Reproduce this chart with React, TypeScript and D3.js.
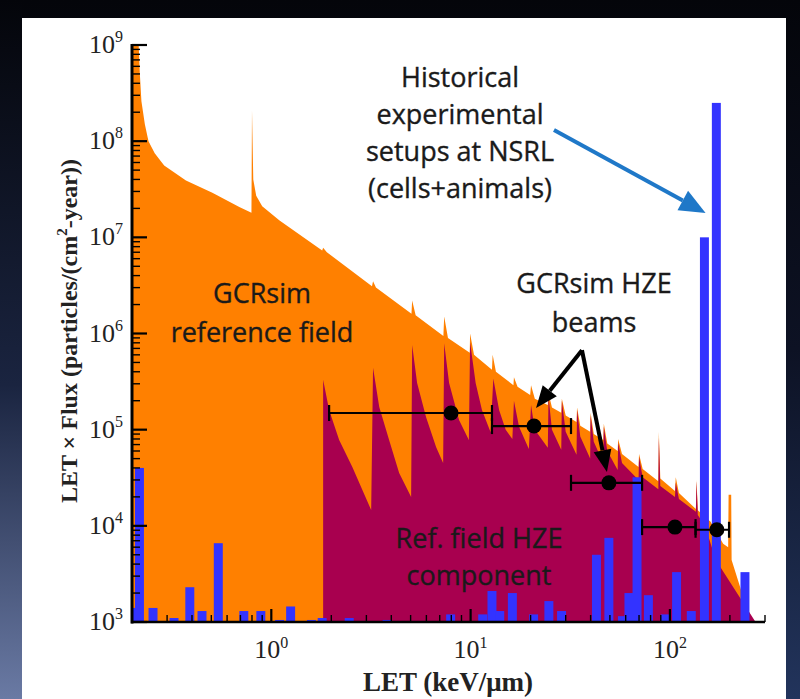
import React from "react";
import * as d3 from "d3";

// GCRsim reference field (orange): LET (keV/um) and LET x flux
const refLet = [0.2, 0.216, 0.219, 0.223, 0.232, 0.242, 0.26, 0.29, 0.373, 0.506, 0.691, 0.795, 0.8, 0.812, 0.84, 0.9, 1.1,
  1.8, 1.82, 1.9, 3.2, 3.24, 3.35, 5.05, 5.09, 5.3, 7.3, 7.37, 7.7, 9.9, 9.94, 10.4, 12.8, 12.9, 13.4, 16.4, 16.5, 17.2,
  19.9, 20.1, 21, 24.4, 24.6, 25.6, 28.5, 28.7, 30, 34, 34.2, 35.5, 39.8, 40, 41.5, 46.3, 46.6, 48.5, 54.7, 55, 57.5,
  69.6, 70, 73, 87.5, 88, 89.5, 106, 107, 111, 135, 136, 138, 160, 185, 196, 197, 203, 204, 230, 260];
const refFlux = [1e9, 1e9, 5e8, 2.6e8, 1.5e8, 1.0e8, 7.5e7, 5.6e7, 3.9e7, 2.9e7, 2.07e7, 1.8e7, 2.1e8, 4.0e7, 2.7e7, 2.1e7, 1.5e7,
  7.3e6, 7.8e6, 7.0e6, 3.1e6, 3.5e6, 3.0e6, 1.6e6, 2.2e6, 1.55e6, 9.4e5, 1.5e6, 9.0e5, 6.3e5, 1.0e6, 6.0e5, 4.2e5, 6.0e5, 4.0e5, 2.9e5, 3.5e5, 2.8e5,
  2.3e5, 2.9e5, 2.1e5, 1.8e5, 2.4e5, 1.7e5, 1.5e5, 2.1e5, 1.4e5, 1.2e5, 1.7e5, 1.1e5, 9.5e4, 1.5e5, 9.0e4, 7.8e4, 1.15e5, 7.2e4, 6.0e4, 8.0e4, 5.6e4,
  4.1e4, 5.6e4, 3.9e4, 2.9e4, 9.5e4, 3.1e4, 2.3e4, 3.2e4, 2.2e4, 1.5e4, 3.0e4, 1.45e4, 1.1e4, 6.5e3, 6.0e3, 2.1e4, 2.1e4, 4.4e3, 2.0e3, 1e3];

// Ref. field HZE component (crimson)
const hzeLet = [1.82, 1.95, 2.19, 2.55, 3.17, 3.24, 3.48, 3.9, 4.38, 5.03, 5.09, 5.39, 5.98, 6.71, 7.28, 7.37, 7.8, 8.75, 9.8,
  9.94, 10.6, 11.4, 12.6, 13.0, 13.9, 15.0, 16.2, 16.5, 17.5, 19.6, 20.1, 21, 24.4, 24.6, 25.6, 28.5, 28.7, 30, 34, 34.2, 35.5,
  39.8, 40, 41.5, 46.3, 46.6, 48.5, 54.7, 55, 57.5, 69.6, 70, 73, 87.5, 88, 89.5, 106, 107, 111, 135, 136, 138, 150, 170, 269];
const hzeFlux = [3.3e5, 1.6e5, 7.8e4, 4.1e4, 1.46e4, 4.4e5, 1.72e5, 7.8e4, 3.55e4, 2.0e4, 7.6e5, 3.05e5, 1.35e5, 6.6e4, 4.5e4, 7.9e5, 3.05e5, 1.26e5, 7.8e4,
  8.1e5, 3.05e5, 1.6e5, 9.4e4, 3.4e5, 1.6e5, 1.0e5, 8.0e4, 2.0e5, 1.07e5, 6.3e4, 1.8e5, 1.0e5, 6.5e4, 2.2e5, 1.0e5, 6.2e4, 2.0e5, 9.5e4, 5.5e4, 1.6e5, 8.5e4,
  5.0e4, 1.4e5, 7.5e4, 4.5e4, 1.07e5, 6.0e4, 3.8e4, 7.3e4, 4.5e4, 3.0e4, 5.2e4, 3.2e4, 2.4e4, 8.3e4, 2.6e4, 2.0e4, 2.8e4, 1.9e4, 1.4e4, 2.9e4, 1.3e4, 1.0e4, 4.4e3, 1e3];

// Historical experimental setups at NSRL (blue bars)
const nsrlLet = [0.2, 0.218, 0.255, 0.325, 0.39, 0.449, 0.542, 0.728, 0.886, 1.10, 1.25, 1.59, 1.80, 2.46, 3.81, 7.94, 11.5, 12.8,
  14.0, 16.2, 20.7, 24.7, 28.6, 42.8, 49.4, 57.8, 62.3, 68.4, 78, 94.9, 108, 128, 149, 171, 238];
const nsrlFlux = [1.4e3, 4.0e4, 1.4e3, 1.1e3, 2.3e3, 1.3e3, 6.6e3, 1.3e3, 1.3e3, 1.05e3, 1.45e3, 1.05e3, 1.1e3, 1.1e3, 1.05e3, 1.2e3, 1.2e3, 2.1e3,
  1.3e3, 2.0e3, 1.2e3, 1.65e3, 1.3e3, 5.0e3, 7.5e3, 1.15e3, 2.0e3, 3.2e4, 1.9e3, 1.2e3, 3.3e3, 1.3e3, 1.0e7, 2.5e8, 3.3e3];

// GCRsim HZE beams (points with LET ranges)
const beamLet = [7.98, 20.8, 49.4, 106, 172];
const beamFlux = [1.49e5, 1.09e5, 2.8e4, 9.7e3, 9.1e3];
const beamLo = [1.95, 12.8, 31.9, 72.5, 134.5];
const beamHi = [12.8, 31.9, 72.5, 134.5, 198];

// annotation arrows, [LET, flux] from -> to
const blueArrow = [[26.2, 1.31e8], [151, 1.79e7]];
const beamArrows = [
  [[36.2, 6.7e5], [21.3, 1.68e5]],
  [[36.2, 6.7e5], [48.3, 3.63e4]],
];

const xTickExps = [0, 1, 2];
const yTickExps = [3, 4, 5, 6, 7, 8, 9];

const W = 800;
const H = 699;

function head(x1: number, y1: number, x2: number, y2: number, len: number, half: number) {
  const a = Math.atan2(y2 - y1, x2 - x1);
  const bx = x2 - len * Math.cos(a), by = y2 - len * Math.sin(a);
  const px = -Math.sin(a) * half, py = Math.cos(a) * half;
  return { base: [bx, by], pts: `${x2},${y2} ${bx + px},${by + py} ${bx - px},${by - py}` };
}

export default function App() {
  const x = d3.scaleLog().domain([0.2, 300]).range([132, 765]);
  const y = d3.scaleLog().domain([1e3, 1e9]).range([622, 45]);
  const bottom = y(1e3);

  const area = d3.area<number[]>()
    .x(d => x(d[0]))
    .y0(bottom)
    .y1(d => y(d[1]));

  const refPts = refLet.map((v, i) => [v, refFlux[i]]);
  const hzePts = hzeLet.map((v, i) => [v, hzeFlux[i]]);
  const binHalf = Math.pow(10, 0.0225);

  const isMajor = (v: number) => Math.abs(Math.log10(v) - Math.round(Math.log10(v))) < 1e-9;

  const arrow = (seg: number[][], color: string, sw: number, len: number, half: number, key: string) => {
    const x1 = x(seg[0][0]), y1 = y(seg[0][1]), x2 = x(seg[1][0]), y2 = y(seg[1][1]);
    const h = head(x1, y1, x2, y2, len, half);
    return (
      <g key={key}>
        <line x1={x1} y1={y1} x2={h.base[0]} y2={h.base[1]} stroke={color} strokeWidth={sw} />
        <polygon points={h.pts} fill={color} />
      </g>
    );
  };

  const serif = "'Liberation Serif', 'Times New Roman', serif";
  const sans = "'Open Sans', 'Noto Sans', sans-serif";

  return (
    <svg width={W} height={H} style={{ position: "absolute", left: 0, top: 0, display: "block" }}>
      <defs>
        <linearGradient id="bg" x1="0" y1="0" x2="0" y2="1">
          <stop offset="0%" stopColor="#04050a" />
          <stop offset="50%" stopColor="#0d1224" />
          <stop offset="100%" stopColor="#22345c" />
        </linearGradient>
        <linearGradient id="bgLeft" x1="0" y1="0" x2="0" y2="1">
          <stop offset="0%" stopColor="#04050a" />
          <stop offset="55%" stopColor="#1a2440" />
          <stop offset="100%" stopColor="#6a7aa4" />
        </linearGradient>
        <clipPath id="plot">
          <rect x={132} y={45} width={633} height={577} />
        </clipPath>
      </defs>

      <rect x={0} y={0} width={W} height={H} fill="url(#bg)" />
      <rect x={0} y={0} width={22} height={H} fill="url(#bgLeft)" />
      <rect x={22} y={18} width={764} height={H - 18} fill="#ffffff" />

      <g clipPath="url(#plot)">
        <path d={area(refPts) || ""} fill="#ff8000" />
        <path d={area(hzePts) || ""} fill="#a8004f" />
        {nsrlLet.map((v, i) => (
          <rect key={i} x={x(v / binHalf)} width={x(v * binHalf) - x(v / binHalf)}
            y={y(nsrlFlux[i])} height={bottom - y(nsrlFlux[i])} fill="#3333ff" />
        ))}
      </g>

      {/* axes */}
      <g stroke="#000">
        {y.ticks().map((v, i) => (
          <line key={"yt" + i} x1={132} x2={132 + (isMajor(v) ? 15 : 8)} y1={y(v)} y2={y(v)}
            strokeWidth={isMajor(v) ? 2.2 : 1.4} />
        ))}
        {x.ticks().map((v, i) => (
          <line key={"xt" + i} x1={x(v)} x2={x(v)} y1={bottom} y2={bottom - (isMajor(v) ? 13 : 7)}
            strokeWidth={isMajor(v) ? 2.2 : 1.4} />
        ))}
        <line x1={132} x2={132} y1={44} y2={bottom + 1.5} strokeWidth={3} />
        <line x1={131} x2={765} y1={bottom} y2={bottom} strokeWidth={2.5} />
      </g>

      {/* tick labels */}
      <g fontFamily={serif} fill="#222">
        {yTickExps.map(e => (
          <text key={"yl" + e} x={123} y={y(Math.pow(10, e)) + 8} textAnchor="end" fontSize={26}>
            10<tspan fontSize={16} dy={-11}>{e}</tspan>
          </text>
        ))}
        {xTickExps.map(e => (
          <text key={"xl" + e} x={x(Math.pow(10, e))} y={658} textAnchor="middle" fontSize={26}>
            10<tspan fontSize={16} dy={-10}>{e}</tspan>
          </text>
        ))}
        <text x={448} y={691} textAnchor="middle" fontSize={27} fontWeight="bold">LET (keV/μm)</text>
        <text transform="translate(77,331) rotate(-90)" textAnchor="middle" fontSize={24} fontWeight="bold">
          LET × Flux (particles/(cm<tspan fontSize={15} dy={-10}>2</tspan><tspan dy={10}>-year))</tspan>
        </text>
      </g>

      {/* GCRsim HZE beams */}
      <g stroke="#000" strokeWidth={2.2}>
        {beamLet.map((v, i) => {
          const cy = y(beamFlux[i]);
          return (
            <g key={"b" + i}>
              <line x1={x(beamLo[i])} x2={x(beamHi[i])} y1={cy} y2={cy} />
              <line x1={x(beamLo[i])} x2={x(beamLo[i])} y1={cy - 8} y2={cy + 8} />
              <line x1={x(beamHi[i])} x2={x(beamHi[i])} y1={cy - 8} y2={cy + 8} />
              <circle cx={x(v)} cy={cy} r={7.5} fill="#000" stroke="none" />
            </g>
          );
        })}
      </g>

      {arrow(blueArrow, "#1f78c8", 4, 26, 11, "ba")}
      {beamArrows.map((s, i) => arrow(s, "#000", 4, 22, 9, "k" + i))}

      <g fontFamily={sans} fontSize={27} fill="#1a1a1a" stroke="#1a1a1a" strokeWidth={0.35} textAnchor="middle">
        <text x={460} y={87}>Historical</text>
        <text x={460} y={124}>experimental</text>
        <text x={460} y={161}>setups at NSRL</text>
        <text x={460} y={198}>(cells+animals)</text>
        <text x={262} y={303}>GCRsim</text>
        <text x={262} y={342}>reference field</text>
        <text x={594} y={293}>GCRsim HZE</text>
        <text x={594} y={332}>beams</text>
        <text x={479} y={548}>Ref. field HZE</text>
        <text x={479} y={585}>component</text>
      </g>
    </svg>
  );
}
